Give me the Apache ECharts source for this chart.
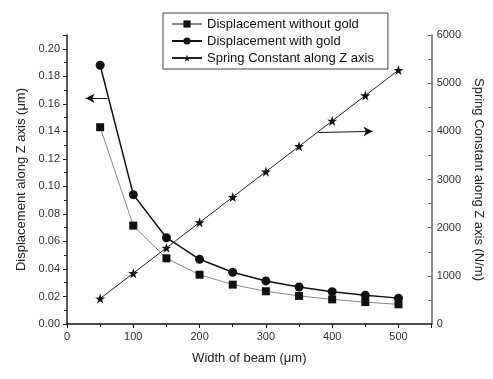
<!DOCTYPE html>
<html>
<head>
<meta charset="utf-8">
<script src="https://cdn.jsdelivr.net/npm/echarts@6/dist/echarts.min.js"></script>
<style>
html,body{margin:0;padding:0;background:#fff;}
#c{width:493px;height:379px;}
</style>
</head>
<body>
<div id="c"></div>
<script>
const widths = [50, 100, 150, 200, 250, 300, 350, 400, 450, 500];
const withoutGold = [0.143, 0.0715, 0.0477, 0.0358, 0.0286, 0.0238, 0.0204, 0.0179, 0.0159, 0.0143];
const withGold = [0.188, 0.094, 0.0627, 0.047, 0.0376, 0.0313, 0.0269, 0.0235, 0.0209, 0.0188];
const springConst = [527, 1054, 1581, 2108, 2635, 3162, 3689, 4216, 4743, 5270];
const seriesNames = ['Displacement without gold', 'Displacement with gold', 'Spring Constant along Z axis'];
const xName = 'Width of beam (\u03bcm)';
const yLeftName = 'Displacement along Z axis (\u03bcm)';
const yRightName = 'Spring Constant along Z axis (N/m)';
const leftArrow = [[61, 0.164], [28, 0.164]];
const rightArrow = [[379, 3975], [461, 4000]];

const FONT = 'Liberation Sans, Arial, sans-serif';
const star = 'path://M12,0 L14.9,8.6 L24,8.6 L16.6,14 L19.4,22.6 L12,17.3 L4.6,22.6 L7.4,14 L0,8.6 L9.1,8.6 Z';
const pairs = (ys) => widths.map((x, i) => [x, ys[i]]);
const arrowML = (pts) => ({
  silent: true,
  symbol: ['none', 'arrow'],
  symbolSize: [7, 9],
  label: {show: false},
  lineStyle: {color: '#111', width: 1, type: 'solid'},
  emphasis: {disabled: true},
  data: [[{coord: pts[0]}, {coord: pts[1]}]]
});

const chart = echarts.init(document.getElementById('c'), null, {renderer: 'canvas'});
chart.setOption({
  animation: false,
  textStyle: {fontFamily: FONT},
  grid: {left: 67, right: 47, top: 35, bottom: 55, containLabel: false},
  legend: {
    left: 163, top: 13,
    orient: 'vertical',
    padding: [4, 14, 4, 8],
    itemGap: 3,
    itemWidth: 30,
    itemHeight: 9,
    borderColor: '#444',
    borderWidth: 1,
    textStyle: {fontFamily: FONT, fontSize: 13, color: '#111', lineHeight: 14},
    data: seriesNames
  },
  xAxis: {
    type: 'value', min: 0, max: 550, interval: 100,
    name: xName, nameLocation: 'middle', nameGap: 28,
    nameTextStyle: {fontFamily: FONT, fontSize: 13, color: '#222'},
    axisLine: {show: true, onZero: false, lineStyle: {color: '#111', width: 1.5}},
    axisTick: {show: true, inside: false, length: 4, lineStyle: {color: '#111'}},
    minorTick: {show: true, splitNumber: 2, length: 3, lineStyle: {color: '#111'}},
    axisLabel: {fontFamily: FONT, fontSize: 11, color: '#333', margin: 7, showMaxLabel: false},
    splitLine: {show: false}
  },
  yAxis: [
    {
      type: 'value', min: 0, max: 0.21, interval: 0.02, position: 'left',
      name: yLeftName, nameLocation: 'middle', nameGap: 39,
      nameTextStyle: {fontFamily: FONT, fontSize: 13, color: '#222'},
      axisLine: {show: true, lineStyle: {color: '#222', width: 1.5}},
      axisTick: {show: true, inside: false, length: 4, lineStyle: {color: '#222'}},
      minorTick: {show: true, splitNumber: 2, length: 3, lineStyle: {color: '#222'}},
      axisLabel: {fontFamily: FONT, fontSize: 11, color: '#333', margin: 7, showMaxLabel: false,
        formatter: (v) => v.toFixed(2)},
      splitLine: {show: false}
    },
    {
      type: 'value', min: 0, max: 6000, interval: 1000, position: 'right',
      name: yRightName, nameLocation: 'middle', nameGap: 32, nameRotate: -90,
      nameTextStyle: {fontFamily: FONT, fontSize: 13, color: '#222'},
      axisLine: {show: true, lineStyle: {color: '#666', width: 1.5}},
      axisTick: {show: true, inside: true, length: 4, lineStyle: {color: '#666'}},
      minorTick: {show: true, splitNumber: 2, length: 3, lineStyle: {color: '#666'}},
      axisLabel: {fontFamily: FONT, fontSize: 11, color: '#333', margin: 5,
        formatter: (v) => String(v)},
      splitLine: {show: false}
    }
  ],
  series: [
    {
      name: seriesNames[0], type: 'line', yAxisIndex: 0,
      data: pairs(withoutGold),
      symbol: 'rect', symbolSize: 8,
      itemStyle: {color: '#111'},
      lineStyle: {color: '#888', width: 1},
      emphasis: {disabled: true}
    },
    {
      name: seriesNames[1], type: 'line', yAxisIndex: 0,
      data: pairs(withGold),
      symbol: 'circle', symbolSize: 9,
      itemStyle: {color: '#111'},
      lineStyle: {color: '#111', width: 1.5},
      emphasis: {disabled: true},
      markLine: arrowML(leftArrow)
    },
    {
      name: seriesNames[2], type: 'line', yAxisIndex: 1,
      data: pairs(springConst),
      symbol: star, symbolSize: 10,
      itemStyle: {color: '#111'},
      lineStyle: {color: '#222', width: 1},
      emphasis: {disabled: true},
      markLine: arrowML(rightArrow)
    }
  ]
});
</script>
</body>
</html>
